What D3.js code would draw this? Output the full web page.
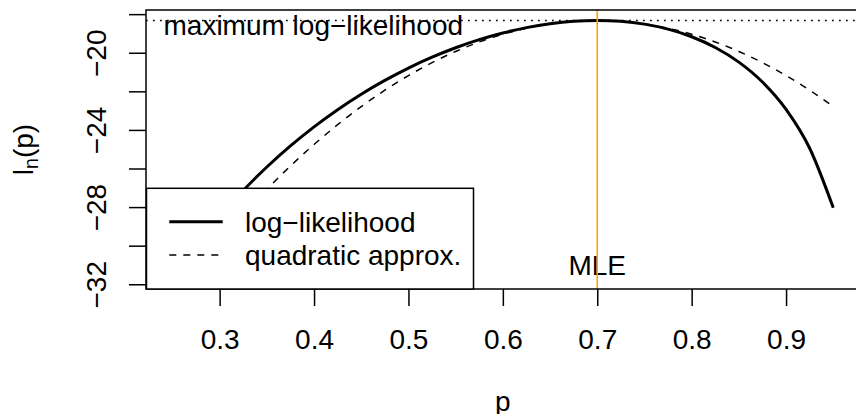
<!DOCTYPE html>
<html>
<head>
<meta charset="utf-8">
<script src="https://cdn.jsdelivr.net/npm/d3@7"></script>
<style>
  html, body { margin: 0; padding: 0; background: #fff; }
  svg { display: block; font-family: "Liberation Sans", Arial, Helvetica, sans-serif; }
</style>
</head>
<body>
<svg id="chart" width="856" height="414"></svg>
<script>
// ─── values ───
const pGrid = [0.250, 0.275, 0.300, 0.325, 0.350, 0.375, 0.400, 0.425, 0.450, 0.475,
               0.500, 0.525, 0.550, 0.575, 0.600, 0.625, 0.650, 0.675, 0.700, 0.725,
               0.750, 0.775, 0.800, 0.825, 0.850, 0.875, 0.900, 0.925, 0.950];
const logLik = [-31.701, -30.005, -28.494, -27.140, -25.923, -24.827, -23.840, -22.950, -22.149, -21.433,
                -20.794, -20.232, -19.741, -19.322, -18.974, -18.698, -18.495, -18.369, -18.326, -18.372,
                -18.518, -18.778, -19.171, -19.727, -20.487, -21.519, -22.936, -24.950, -28.039];
const quadApprox = [-32.790, -31.228, -29.755, -28.371, -27.076, -25.871, -24.755, -23.728, -22.790, -21.942,
                    -21.183, -20.513, -19.933, -19.442, -19.040, -18.728, -18.505, -18.371, -18.326, -18.371,
                    -18.505, -18.728, -19.040, -19.442, -19.933, -20.513, -21.183, -21.942, -22.790];
const mle = 0.7;
const maxLogLik = -18.326;
const xTicks = [0.3, 0.4, 0.5, 0.6, 0.7, 0.8, 0.9];
const yTicks = [-32, -30, -28, -26, -24, -22, -20, -18];
const yTickLabels = [-32, -28, -24, -20];
const legendLabels = ['log\u2212likelihood', 'quadratic approx.'];

(function () {
  const svg = d3.select('#chart');
  const fs = 28;
  const plot = { left: 146, right: 859.7, top: 10, bottom: 289 };

  // R style 4% extension of the data range
  const x = d3.scaleLinear().domain([0.222, 0.978]).range([plot.left, plot.right]);
  const y = d3.scaleLinear().domain([-32.245, -17.785]).range([plot.bottom, plot.top]);

  svg.append('defs').append('clipPath').attr('id', 'plot-clip')
    .append('rect')
    .attr('x', plot.left).attr('y', plot.top)
    .attr('width', plot.right - plot.left).attr('height', plot.bottom - plot.top);

  const g = svg.append('g').attr('clip-path', 'url(#plot-clip)');
  const pts = (vals) => pGrid.map((p, i) => [p, vals[i]]);
  const line = d3.line().x(d => x(d[0])).y(d => y(d[1])).curve(d3.curveMonotoneX);

  g.append('path').datum(pts(logLik))
    .attr('d', line).attr('fill', 'none')
    .attr('stroke', '#000').attr('stroke-width', 3);

  g.append('path').datum(pts(quadApprox))
    .attr('d', line).attr('fill', 'none')
    .attr('stroke', '#000').attr('stroke-width', 1.5)
    .attr('stroke-dasharray', '7,7');

  // abline(h = max) dotted
  g.append('line')
    .attr('x1', plot.left).attr('x2', plot.right)
    .attr('y1', y(maxLogLik)).attr('y2', y(maxLogLik))
    .attr('stroke', '#000').attr('stroke-width', 1.5)
    .attr('stroke-dasharray', '1.75,5.25');

  g.append('text')
    .attr('x', 163.5).attr('y', 35)
    .attr('font-size', fs)
    .text('maximum log\u2212likelihood');

  g.append('text')
    .attr('x', x(mle)).attr('y', 275)
    .attr('text-anchor', 'middle')
    .attr('font-size', fs)
    .text('MLE');

  // abline(v = MLE)
  g.append('line')
    .attr('x1', x(mle)).attr('x2', x(mle))
    .attr('y1', plot.top).attr('y2', plot.bottom)
    .attr('stroke', '#FFA500').attr('stroke-width', 1.6);

  // axes
  const xAxis = svg.append('g')
    .attr('transform', `translate(0,${plot.bottom})`)
    .call(d3.axisBottom(x).tickValues(xTicks).tickSize(17).tickFormat(d3.format('.1f')));
  xAxis.select('.domain').remove();
  xAxis.selectAll('.tick line').attr('stroke-width', 1.5);
  xAxis.selectAll('.tick text')
    .attr('y', 60).attr('dy', null)
    .attr('font-size', fs).attr('font-family', null).attr('fill', '#000');

  const yAxis = svg.append('g')
    .attr('transform', `translate(${plot.left},0)`)
    .call(d3.axisLeft(y).tickValues(yTicks).tickSize(17)
      .tickFormat(d => yTickLabels.includes(d) ? String(d).replace('-', '\u2212') : ''));
  yAxis.select('.domain').remove();
  yAxis.selectAll('.tick line').attr('stroke-width', 1.5);
  yAxis.selectAll('.tick text')
    .attr('x', null).attr('dy', null)
    .attr('transform', 'translate(-40,0) rotate(-90)')
    .attr('text-anchor', 'middle')
    .attr('font-size', fs).attr('font-family', null).attr('fill', '#000');

  // plot box
  svg.append('rect')
    .attr('x', plot.left).attr('y', plot.top)
    .attr('width', plot.right - plot.left).attr('height', plot.bottom - plot.top)
    .attr('fill', 'none').attr('stroke', '#000').attr('stroke-width', 1.5);

  // axis titles
  svg.append('text')
    .attr('x', (plot.left + plot.right) / 2).attr('y', 410.5)
    .attr('text-anchor', 'middle').attr('font-size', fs)
    .text('p');

  const yl = svg.append('text')
    .attr('transform', `translate(33,${(plot.top + plot.bottom) / 2}) rotate(-90)`)
    .attr('text-anchor', 'middle').attr('font-size', fs);
  yl.append('tspan').text('l');
  yl.append('tspan').attr('dy', 5).attr('font-size', fs * 0.7).text('n');
  yl.append('tspan').attr('dy', -5).text('(p)');

  // legend (bottomleft)
  const lg = svg.append('g');
  lg.append('rect')
    .attr('x', plot.left + 0.5).attr('y', 188.3)
    .attr('width', 327).attr('height', plot.bottom - 188.3)
    .attr('fill', '#fff').attr('stroke', '#000').attr('stroke-width', 1.5);

  const rowY = [221.7, 255];
  const rowDash = [null, '7,7'];
  const rowWidth = [3, 1.5];
  legendLabels.forEach((lab, i) => {
    lg.append('line')
      .attr('x1', 169.3).attr('x2', 222.7)
      .attr('y1', rowY[i]).attr('y2', rowY[i])
      .attr('stroke', '#000').attr('stroke-width', rowWidth[i])
      .attr('stroke-dasharray', rowDash[i]);
    lg.append('text')
      .attr('x', 245).attr('y', rowY[i] + 9.8)
      .attr('font-size', fs)
      .text(lab);
  });
})();
</script>
</body>
</html>
